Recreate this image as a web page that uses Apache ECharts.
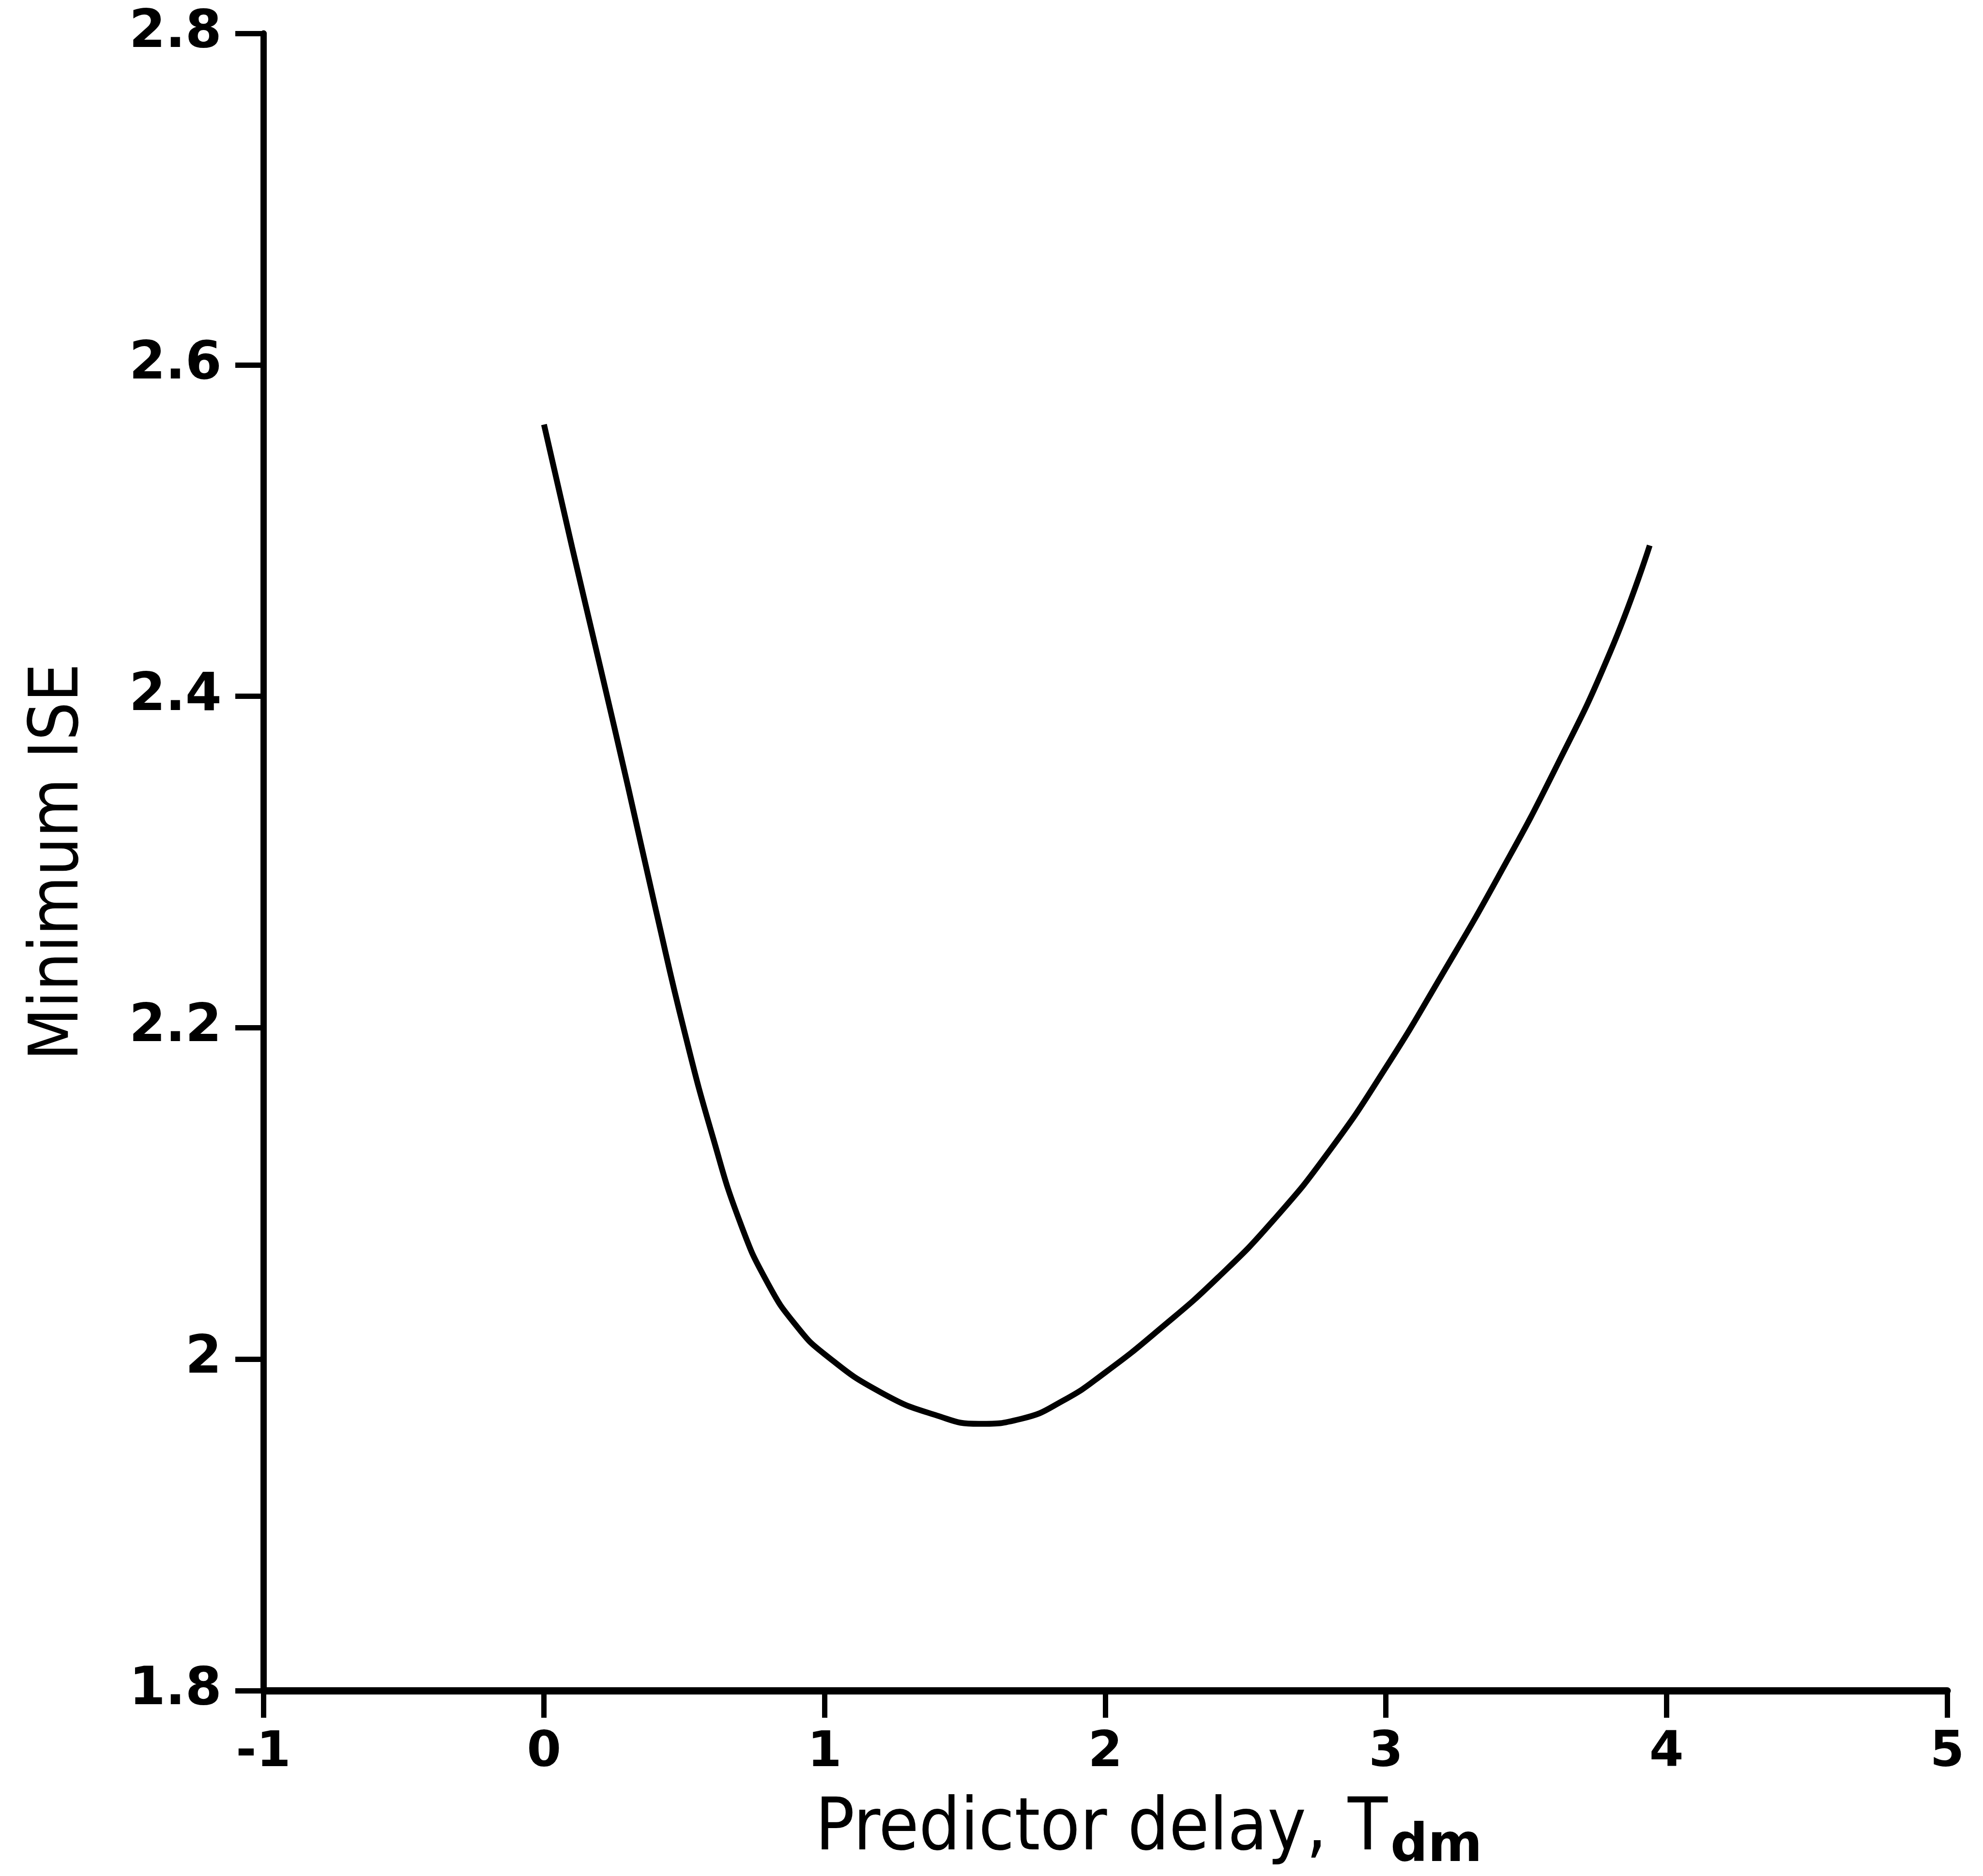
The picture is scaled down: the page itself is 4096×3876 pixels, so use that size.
<!DOCTYPE html>
<html>
<head>
<meta charset="utf-8">
<script src="https://cdn.jsdelivr.net/npm/echarts@6/dist/echarts.min.js"></script>
<style>
html,body{margin:0;padding:0;background:#fff;}
#chart{width:4096px;height:3876px;}
</style>
</head>
<body>
<div id="chart"></div>
<script>
// Data
const delay = [0.0, 0.1, 0.2, 0.3, 0.4, 0.5, 0.6, 0.7, 0.8, 0.9, 1.0, 1.2, 1.4, 1.55, 1.7, 1.85, 2.0, 2.2, 2.4, 2.6, 2.8, 3.0, 3.2, 3.4, 3.6, 3.8, 3.94];
const ise   = [2.564, 2.490, 2.418, 2.345, 2.270, 2.198, 2.135, 2.082, 2.045, 2.020, 2.003, 1.980, 1.966, 1.961, 1.964, 1.975, 1.992, 2.019, 2.049, 2.084, 2.126, 2.176, 2.232, 2.291, 2.355, 2.427, 2.491];
const xTicks = [-1, 0, 1, 2, 3, 4, 5];
const yTicks = [1.8, 2, 2.2, 2.4, 2.6, 2.8];
const xTitle = 'Predictor delay, ';
const xTitleT = 'T';
const xTitleSub = 'dm';
const yTitle = 'Minimum ISE';

const FONT = '"Liberation Sans Narrow", "DejaVu Sans Condensed", "Roboto", sans-serif';
const LABEL_FONT = '"DejaVu Sans", "Roboto", sans-serif';

const chart = echarts.init(document.getElementById('chart'), null, {renderer: 'canvas'});
const points = delay.map((d, i) => [d, ise[i]]);

chart.setOption({
  backgroundColor: '#ffffff',
  animation: false,
  grid: {left: 544, right: 74, top: 69, bottom: 378, containLabel: false},
  xAxis: {
    type: 'value',
    min: xTicks[0],
    max: xTicks[xTicks.length - 1],
    interval: 1,
    splitLine: {show: false},
    axisLine: {show: true, onZero: false, lineStyle: {color: '#000', width: 15}},
    axisTick: {show: true, inside: false, length: 56, lineStyle: {color: '#000', width: 11}},
    axisLabel: {show: true, margin: 78, color: '#000', fontSize: 102, fontWeight: 'bold', fontFamily: LABEL_FONT},
    name: xTitle + '{t|' + xTitleT + '}{s|' + xTitleSub + '}',
    nameLocation: 'middle',
    nameGap: 200,
    nameTextStyle: {
      color: '#000', fontSize: 150, fontFamily: FONT, padding: [0, 0, 0, 180],
      rich: {
        t: {fontSize: 150, fontFamily: FONT, color: '#000'},
        s: {fontSize: 108, fontWeight: 'bold', fontFamily: LABEL_FONT, color: '#000', padding: [70, 0, 0, 6]}
      }
    }
  },
  yAxis: {
    type: 'value',
    min: yTicks[0],
    max: yTicks[yTicks.length - 1],
    interval: 0.2,
    splitLine: {show: false},
    axisLine: {show: true, onZero: false, lineStyle: {color: '#000', width: 13}},
    axisTick: {show: true, inside: false, length: 58, lineStyle: {color: '#000', width: 11}},
    axisLabel: {show: true, margin: 86, color: '#000', fontSize: 108, fontWeight: 'bold', fontFamily: LABEL_FONT,
      formatter: v => String(Math.round(v * 10) / 10)},
    name: yTitle,
    nameLocation: 'middle',
    nameRotate: 90,
    nameGap: 350,
    nameTextStyle: {color: '#000', fontSize: 140, fontFamily: FONT}
  },
  series: [{
    type: 'line',
    data: points,
    smooth: true,
    showSymbol: false,
    symbol: 'none',
    lineStyle: {color: '#000', width: 12},
    z: 3
  }]
});
</script>
</body>
</html>
